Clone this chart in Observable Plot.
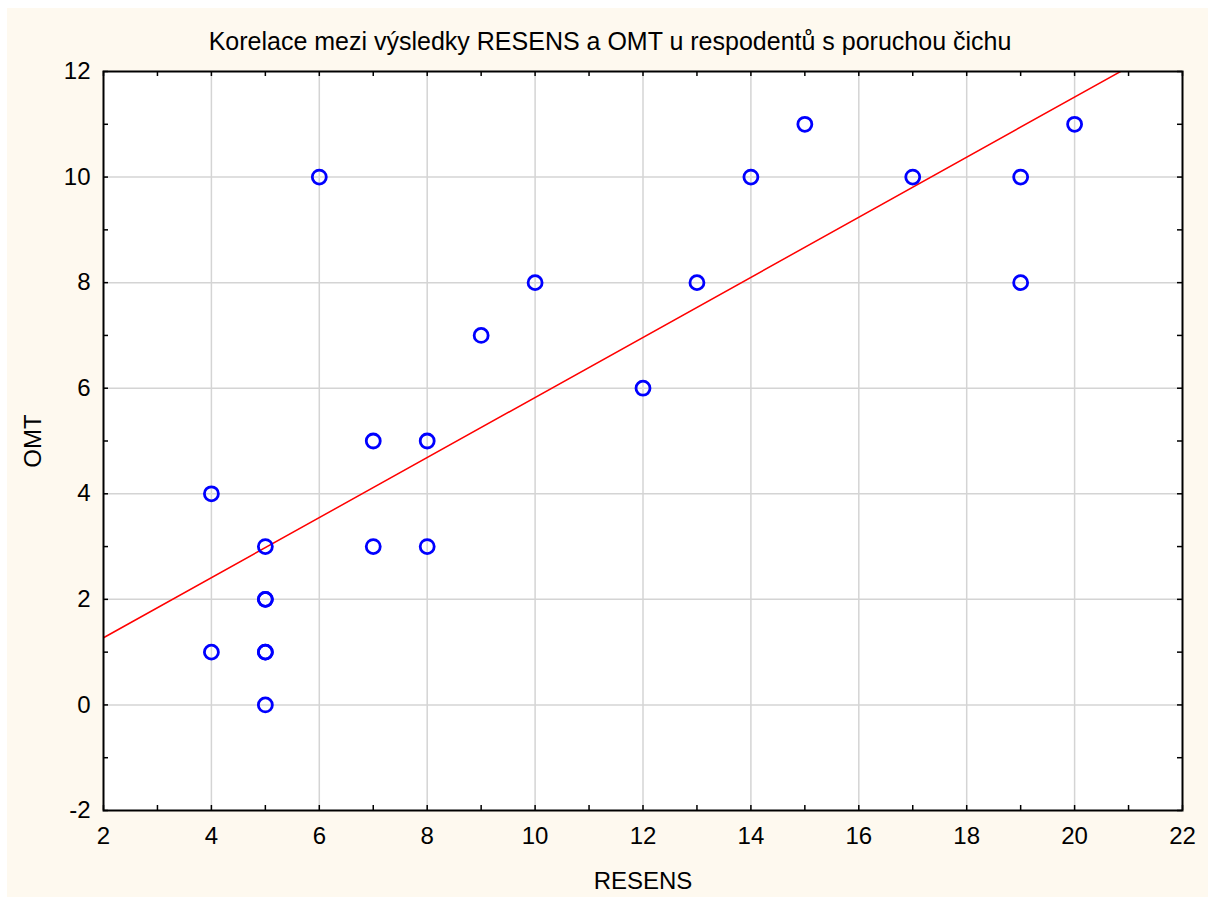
<!DOCTYPE html>
<html>
<head>
<meta charset="utf-8">
<script src="https://cdn.jsdelivr.net/npm/d3@7"></script>
<script src="https://cdn.jsdelivr.net/npm/@observablehq/plot@0.6"></script>
<style>
  html, body { margin: 0; padding: 0; background: #ffffff; }
  #wrap { position: absolute; left: 7px; top: 8px; width: 1201px; height: 889px; background: #fef9ef; font-family: "Liberation Sans", Arial, sans-serif; }
  #title { position: absolute; left: 0; top: 18px; width: 1206px; text-align: center; font-size: 25px; line-height: 30px; color: #000; z-index: 2; }
  #chart { position: absolute; left: 0; top: 40px; z-index: 1; }
</style>
</head>
<body>
<div id="wrap">
  <div id="title">Korelace mezi výsledky RESENS a OMT u respodentů s poruchou čichu</div>
  <div id="chart"></div>
</div>
<script>
const titleText = "Korelace mezi výsledky RESENS a OMT u respodentů s poruchou čichu";
const resens = [4, 4, 5, 5, 5, 5, 5, 5, 6, 7, 7, 8, 8, 9, 10, 12, 13, 14, 15, 17, 19, 19, 20];
const omt    = [4, 1, 3, 2, 2, 1, 1, 0, 10, 5, 3, 5, 3, 7, 8, 6, 8, 10, 11, 10, 10, 8, 11];
const xTicks = [2, 4, 6, 8, 10, 12, 14, 16, 18, 20, 22];
const yTicks = [-2, 0, 2, 4, 6, 8, 10, 12];
const xMinor = d3.range(2, 23);
const yMinor = d3.range(-2, 13);
const regIntercept = 0.135;
const regSlope = 0.569;
const xDomain = [2, 22];
const yDomain = [-2, 12];

const points = resens.map((x, i) => ({x, y: omt[i]}));
const regLine = xDomain.map(x => ({x, y: regIntercept + regSlope * x}));

const W = 1201, H = 849;
const mL = 96, mR = 26, mT = 23, mB = 87;
const pw = W - mL - mR, ph = H - mT - mB;

const chart = Plot.plot({
  width: W, height: H,
  marginLeft: mL, marginRight: mR, marginTop: mT, marginBottom: mB,
  style: {background: "transparent", fontFamily: "Liberation Sans, Arial, sans-serif", fontSize: "24px", color: "#000"},
  x: {domain: xDomain},
  y: {domain: yDomain},
  marks: [
    Plot.frame({fill: "#ffffff", stroke: null}),
    Plot.gridX(xTicks.slice(1, -1), {stroke: "#d4d4d4", strokeOpacity: 1, strokeWidth: 1.5}),
    Plot.gridY(yTicks.slice(1, -1), {stroke: "#d4d4d4", strokeOpacity: 1, strokeWidth: 1.5}),
    Plot.tickX(xMinor, {x: d => d, insetTop: ph - 5, stroke: "#000", strokeWidth: 1.5}),
    Plot.tickX(xMinor, {x: d => d, insetBottom: ph - 5, stroke: "#000", strokeWidth: 1.5}),
    Plot.tickY(yMinor, {y: d => d, insetRight: pw - 5, stroke: "#000", strokeWidth: 1.5}),
    Plot.tickY(yMinor, {y: d => d, insetLeft: pw - 5, stroke: "#000", strokeWidth: 1.5}),
    Plot.line(regLine, {x: "x", y: "y", stroke: "#ff0000", strokeWidth: 1.5, clip: true}),
    Plot.dot(points, {x: "x", y: "y", r: 7, stroke: "#0000ff", strokeWidth: 2.8, fill: "none"}),
    Plot.frame({stroke: "#000", strokeWidth: 2}),
    Plot.axisX(xTicks, {tickSize: 0, tickPadding: 16, fontSize: 24, tickFormat: d => String(d), label: "RESENS", labelAnchor: "center", labelArrow: "none", labelOffset: 78}),
    Plot.axisY(yTicks, {tickSize: 0, tickPadding: 13, fontSize: 24, tickFormat: d => String(d), label: "OMT", labelAnchor: "center", labelArrow: "none", labelOffset: 80})
  ]
});
document.getElementById("chart").appendChild(chart);
</script>
</body>
</html>
